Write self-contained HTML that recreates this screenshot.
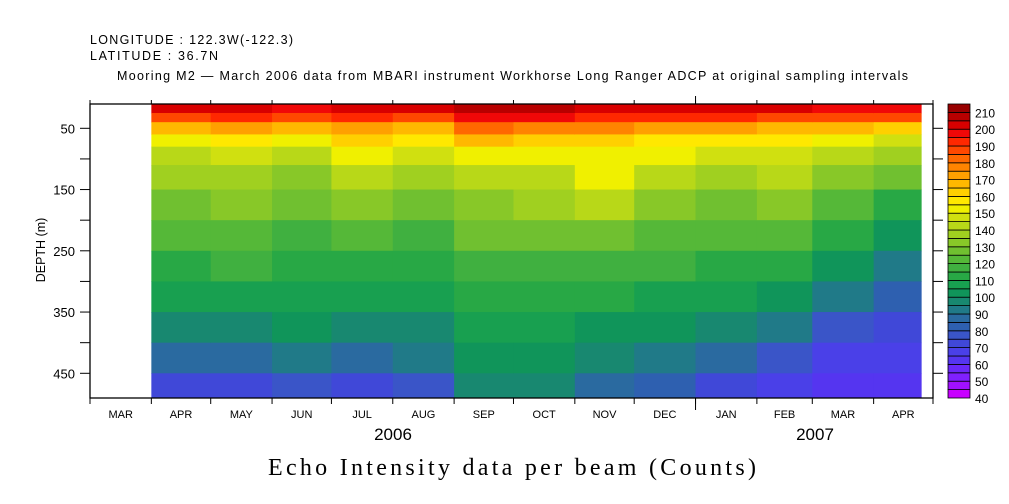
<!DOCTYPE html>
<html><head><meta charset="utf-8"><style>
body{margin:0;background:#fff;}
svg{display:block;font-family:"Liberation Sans",sans-serif;}
</style></head><body>
<svg id="chart" width="1009" height="504" xmlns="http://www.w3.org/2000/svg">
<rect x="0" y="0" width="1009" height="504" fill="#fff"/>
<text x="90" y="44" font-size="12.5" textLength="203" lengthAdjust="spacing">LONGITUDE : 122.3W(-122.3)</text>
<text x="90" y="60" font-size="12.5" textLength="128" lengthAdjust="spacing">LATITUDE : 36.7N</text>
<text x="117" y="80" font-size="12.5" textLength="791" lengthAdjust="spacing">Mooring M2 — March 2006 data from MBARI instrument Workhorse Long Ranger ADCP at original sampling intervals</text>
<g id="heat"></g>
<g id="axes"></g>
<g id="cbar"></g>
<text transform="translate(45,250) rotate(-90)" font-size="12.5" text-anchor="middle">DEPTH (m)</text>
<text x="393" y="440" font-size="17" text-anchor="middle">2006</text>
<text x="815" y="440" font-size="17" text-anchor="middle">2007</text>
<text x="268" y="475" font-size="24" font-family="Liberation Serif, serif" textLength="488" lengthAdjust="spacing">Echo Intensity data per beam (Counts)</text>
</svg>
<script>
const months = ["APR06","MAY06","JUN06","JUL06","AUG06","SEP06","OCT06","NOV06","DEC06","JAN07","FEB07","MAR07","APR07"];
const monthStartDay = [31,61,92,122,153,184,214,245,275,306,337,365,396];
const depthEdges = [10,25,40,60,80,110,150,200,250,300,350,400,450,490];
const vApr06 = [200,185,165,150,140,135,128,120,112,105,95,85,72];
const vMay06 = [200,190,170,155,145,138,130,122,115,107,97,88,72];
const vJun06 = [198,185,165,150,140,132,125,118,112,105,100,92,78];
const vJul06 = [202,190,172,160,150,140,130,120,112,105,98,88,72];
const vAug06 = [200,188,168,155,145,135,125,118,112,105,98,90,78];
const vSep06 = [205,195,180,165,152,142,132,125,118,110,105,100,95];
const vOct06 = [205,195,178,162,150,142,135,125,118,110,105,100,95];
const vNov06 = [200,190,175,160,152,150,140,128,118,110,102,95,85];
const vDec06 = [200,190,172,158,150,142,132,122,115,108,100,92,82];
const vJan07 = [202,192,172,158,148,138,128,120,112,105,97,85,70];
const vFeb07 = [200,188,168,155,148,140,130,120,112,103,92,78,68];
const vMar07 = [198,185,165,152,142,132,120,110,100,90,78,68,63];
const vApr07 = [198,185,162,148,135,125,112,100,90,82,73,66,60];
const series = [vApr06,vMay06,vJun06,vJul06,vAug06,vSep06,vOct06,vNov06,vDec06,vJan07,vFeb07,vMar07,vApr07];
const depthTicks = [50,100,150,200,250,300,350,400,450];
const depthTickLabels = ["50","","150","","250","","350","","450"];
const monthTickDays = [0,31,61,92,122,153,184,214,245,275,306,337,365,396,426];
const monthLabels = ["MAR","APR","MAY","JUN","JUL","AUG","SEP","OCT","NOV","DEC","JAN","FEB","MAR","APR"];
const levelLabels = [40,50,60,70,80,90,100,110,120,130,140,150,160,170,180,190,200,210];
const palette = ["#c800ff","#a010ff","#8020ff","#6a28f8","#5535f0","#4a40e8","#4048d8","#3a55c8","#2e60b0","#2a6aa0","#207a88","#188870","#10955a","#18a050","#28a845","#40b040","#55b838","#70c030","#88c828","#a0d020","#b8d818","#d0e010","#f0f000","#ffe800","#ffd000","#ffb800","#ffa000","#ff8400","#ff6800","#ff4800","#ff2800","#f00808","#d80000","#b80000","#980000"];
const dataStartDay = 30, dataEndDay = 420;

const NS="http://www.w3.org/2000/svg";
const X0=90,X1=933,Y0=104,Y1=398;
const xDay=d=>X0+d*(X1-X0)/426;
const yDepth=z=>128.3+(z-50)*0.6125;
const colorOf=v=>{let i=Math.floor((v-40)/5);i=Math.max(0,Math.min(palette.length-1,i));return palette[i];};
function mk(tag,attrs,parent){const e=document.createElementNS(NS,tag);for(const k in attrs)e.setAttribute(k,attrs[k]);parent.appendChild(e);return e;}

const heat=document.getElementById('heat');
series.forEach((col,mi)=>{
  const d0=Math.max(dataStartDay,monthStartDay[mi]);
  const d1=Math.min(dataEndDay, mi+1<monthStartDay.length?monthStartDay[mi+1]:dataEndDay);
  col.forEach((v,bi)=>{
    const r=mk('rect',{x:xDay(d0),y:Math.max(Y0,yDepth(depthEdges[bi])),width:xDay(d1)-xDay(d0)+0.5,height:Math.min(Y1,yDepth(depthEdges[bi+1]))-Math.max(Y0,yDepth(depthEdges[bi]))+0.5,fill:colorOf(v)},heat);
    
    
  });
});

const ax=document.getElementById('axes');
const frame=mk('rect',{x:X0,y:Y0,width:X1-X0,height:Y1-Y0,fill:'none',stroke:'#000','stroke-width':1.3},ax);


depthTicks.forEach((z,i)=>{
  const y=yDepth(z);
  mk('line',{x1:X0-10,x2:X0,y1:y,y2:y,stroke:'#000','stroke-width':1},ax);
  mk('line',{x1:X1,x2:X1+10,y1:y,y2:y,stroke:'#000','stroke-width':1},ax);
  if(depthTickLabels[i]){
    const t=mk('text',{x:X0-15,y:y+5,'font-size':13,'text-anchor':'end'},ax);
    t.textContent=depthTickLabels[i];
    
    
  }
});
monthTickDays.forEach((d,i)=>{
  const x=xDay(d);
  mk('line',{x1:x,x2:x,y1:Y1,y2:Y1+6,stroke:'#000','stroke-width':1},ax);
  mk('line',{x1:x,x2:x,y1:Y0-4,y2:Y0,stroke:'#000','stroke-width':1},ax);
  if(i<monthLabels.length){
    const t=mk('text',{x:(x+xDay(monthTickDays[i+1]))/2,y:418,'font-size':11,'text-anchor':'middle'},ax);
    t.textContent=monthLabels[i];
    
    
  }
});
const yr=xDay(306);
mk('line',{x1:yr,x2:yr,y1:Y1,y2:Y1+12,stroke:'#000','stroke-width':1},ax);
mk('line',{x1:yr,x2:yr,y1:Y0-8,y2:Y0,stroke:'#000','stroke-width':1},ax);

const cb=document.getElementById('cbar');
const CX=948,CW=22,CB0=398,CB1=104;
const cy=v=>CB0-(v-40)*(CB0-CB1)/175;
palette.forEach((c,i)=>{
  const v=40+i*5;
  const r=mk('rect',{x:CX,y:cy(v+5),width:CW,height:cy(v)-cy(v+5),fill:c,stroke:'#000','stroke-width':0.8},cb);
  
  
});
levelLabels.forEach(v=>{
  const t=mk('text',{x:975,y:cy(v)+5,'font-size':12},cb);
  t.textContent=v;
  
  
});
</script>
</body></html>
